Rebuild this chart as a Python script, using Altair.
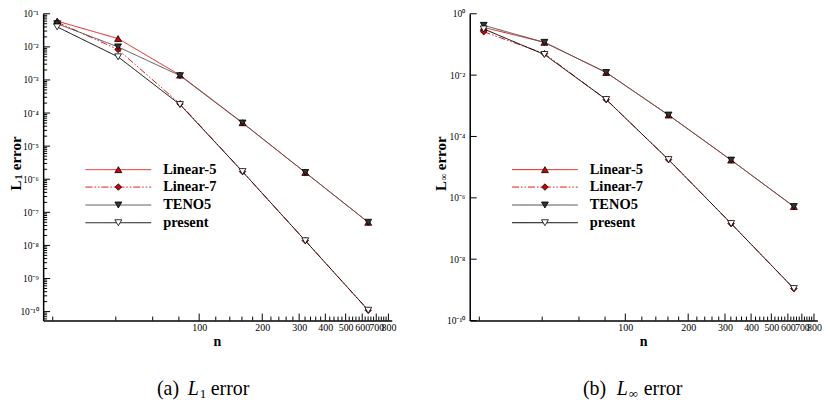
import altair as alt
import pandas as pd

# ---------------- data ----------------
n_vals = [21, 41, 81, 161, 321, 641]
methods = ["Linear-5", "Linear-7", "TENO5", "present"]

l1_linear5 = [6.0e-2, 1.78e-2, 1.4e-3, 5.1e-5, 1.6e-6, 5.0e-8]
l1_linear7 = [5.6e-2, 8.3e-3, 1.9e-4, 1.7e-6, 1.4e-8, 1.1e-10]
l1_teno5 = [5.0e-2, 1.0e-2, 1.35e-3, 5.0e-5, 1.6e-6, 5.0e-8]
l1_present = [4.0e-2, 5.0e-3, 1.8e-4, 1.7e-6, 1.38e-8, 1.1e-10]

linf_linear5 = [0.36, 0.117, 1.22e-2, 5.0e-4, 1.7e-5, 5.2e-7]
linf_linear7 = [0.26, 0.05, 1.6e-3, 1.76e-5, 1.45e-7, 1.1e-9]
linf_teno5 = [0.42, 0.117, 1.22e-2, 5.0e-4, 1.7e-5, 5.2e-7]
linf_present = [0.32, 0.047, 1.6e-3, 1.76e-5, 1.45e-7, 1.1e-9]

x_ticks = [100, 200, 300, 400, 500, 600, 700, 800]
x_minor = [20, 40, 60, 80] + [h + 20 * k for h in range(100, 800, 100) for k in range(1, 5)]

l1_y_ticks = [1e-1, 1e-2, 1e-3, 1e-4, 1e-5, 1e-6, 1e-7, 1e-8, 1e-9, 1e-10]
l1_y_labels = ["10⁻¹", "10⁻²", "10⁻³", "10⁻⁴", "10⁻⁵", "10⁻⁶", "10⁻⁷", "10⁻⁸", "10⁻⁹", "10⁻¹⁰"]
linf_y_ticks = [1.0, 1e-2, 1e-4, 1e-6, 1e-8, 1e-10]
linf_y_labels = ["10⁰", "10⁻²", "10⁻⁴", "10⁻⁶", "10⁻⁸", "10⁻¹⁰"]

FONT = "Liberation Serif, Times New Roman, Times, serif"
W_L, W_R, H = 350, 349, 308
X_DOMAIN = [18, 830]

STY = {
    "Linear-5": dict(color="#e41a1c", dash=[1, 0], shape="triangle-up", fill="#d40000", size=48),
    "Linear-7": dict(color="#e41a1c", dash=[7, 2, 1.5, 2, 1.5, 2], shape="diamond", fill="#d40000", size=42),
    "TENO5": dict(color="#505050", dash=[1, 0], shape="triangle-down", fill="#333333", size=48),
    "present": dict(color="#000000", dash=[1, 0], shape="triangle-down", fill="#ffffff", size=48),
}

one = pd.DataFrame({"d": [0]})


def panel(series, ydomain, y_ticks, y_labels, y_minor, W, title_parts, caption_parts, title_x):
    xs = alt.Scale(type="log", domain=X_DOMAIN, nice=False)
    ys = alt.Scale(type="log", domain=ydomain, nice=False)
    xaxis = alt.Axis(values=x_ticks, format="d", labelFont=FONT, labelFontSize=10,
                     ticks=False, tickSize=0, domainColor="black", domainWidth=1.5,
                     grid=False, title=None, labelOverlap=False, labelFlush=False,
                     labelBound=False, labelPadding=2, labelColor="black")
    arr = "[" + ",".join("'%s'" % s for s in y_labels) + "]"
    vals = "[" + ",".join(repr(v) for v in y_ticks) + "]"
    yaxis = alt.Axis(values=y_ticks, labelExpr=arr + "[indexof(" + vals + ", datum.value)]",
                     labelFont=FONT, labelFontSize=9.5, ticks=False, tickSize=0,
                     domainColor="black", domainWidth=1.5, grid=False, title=None,
                     labelOverlap=False, labelFlush=False, labelBound=False,
                     labelPadding=5, labelColor="black")
    X = lambda: alt.X("n:Q", scale=xs, axis=xaxis)
    Y = lambda: alt.Y("err:Q", scale=ys, axis=yaxis)

    layers = []
    # inward ticks
    layers.append(alt.Chart(pd.DataFrame({"n": x_ticks})).mark_rule(color="black", strokeWidth=1)
                  .encode(x=X(), y=alt.value(H), y2=alt.value(H - 7)))
    layers.append(alt.Chart(pd.DataFrame({"n": x_minor})).mark_rule(color="black", strokeWidth=1)
                  .encode(x=X(), y=alt.value(H), y2=alt.value(H - 4)))
    layers.append(alt.Chart(pd.DataFrame({"err": y_ticks})).mark_rule(color="black", strokeWidth=1)
                  .encode(y=Y(), x=alt.value(0), x2=alt.value(7)))
    if y_minor:
        layers.append(alt.Chart(pd.DataFrame({"err": y_minor})).mark_rule(color="black", strokeWidth=1)
                      .encode(y=Y(), x=alt.value(0), x2=alt.value(4)))

    # lines
    for m in methods:
        df = pd.DataFrame({"n": n_vals, "err": series[m]})
        s = STY[m]
        layers.append(alt.Chart(df).mark_line(color=s["color"], strokeWidth=1, strokeDash=s["dash"])
                      .encode(x=X(), y=Y()))
    # markers
    for m in methods:
        df = pd.DataFrame({"n": n_vals, "err": series[m]})
        s = STY[m]
        layers.append(alt.Chart(df).mark_point(shape=s["shape"], filled=True, fill=s["fill"],
                                               stroke="black", strokeWidth=0.8, size=s["size"], opacity=1)
                      .encode(x=X(), y=Y()))

    # legend
    rows = [156.5, 174.0, 192.0, 209.8]
    for m, ry in zip(methods, rows):
        s = STY[m]
        layers.append(alt.Chart(one).mark_rule(color=s["color"], strokeWidth=1, strokeDash=s["dash"])
                      .encode(x=alt.value(42.5), x2=alt.value(108.5), y=alt.value(ry)))
        layers.append(alt.Chart(one).mark_point(shape=s["shape"], filled=True, fill=s["fill"],
                                                stroke="black", strokeWidth=0.8, size=s["size"], opacity=1)
                      .encode(x=alt.value(75.5), y=alt.value(ry)))
        layers.append(alt.Chart(one).mark_text(text=m, align="left", baseline="middle", font=FONT,
                                               fontSize=14.5, fontWeight="bold", color="black")
                      .encode(x=alt.value(120.5), y=alt.value(ry)))

    # y-axis title (rotated pieces)
    for txt, dx, yy, fs in title_parts:
        layers.append(alt.Chart(one).mark_text(text=txt, angle=270, align="left", baseline="middle",
                                               font=FONT, fontSize=fs, fontWeight="bold", color="black")
                      .encode(x=alt.value(title_x + dx), y=alt.value(yy)))
    # x-axis title
    layers.append(alt.Chart(one).mark_text(text="n", align="center", baseline="middle", font=FONT,
                                           fontSize=14, fontWeight="bold", color="black")
                  .encode(x=alt.value(W / 2), y=alt.value(330)))
    # caption
    for txt, xx, dy, fs, style in caption_parts:
        layers.append(alt.Chart(one).mark_text(text=txt, align="left", baseline="bottom", font=FONT,
                                               fontSize=fs, fontStyle=style, color="black")
                      .encode(x=alt.value(xx), y=alt.value(387 + dy)))

    return alt.layer(*layers).properties(width=W, height=H)


left = panel(
    {"Linear-5": l1_linear5, "Linear-7": l1_linear7, "TENO5": l1_teno5, "present": l1_present},
    [5.37e-11, 0.1], l1_y_ticks, l1_y_labels,
    [k * 10.0 ** d for d in range(-11, -1) for k in range(2, 10) if 5.37e-11 <= k * 10.0 ** d <= 0.1],
    W_L,
    [("L", 0, 177.5, 15), ("1", 3.5, 166.5, 10), ("error", 0, 157, 15)],
    [("(a)", 114.3, 0, 20, "normal"), ("L", 145.3, 0, 20, "italic"), ("1", 157.3, 2, 13, "normal"),
     ("error", 168.3, 0, 20, "normal")],
    -27.7,
)

right = panel(
    {"Linear-5": linf_linear5, "Linear-7": linf_linear7, "TENO5": linf_teno5, "present": linf_present},
    [1e-10, 1.0], linf_y_ticks, linf_y_labels, [],
    W_R,
    [("L", 0, 178, 15), ("∞", 3.5, 167.5, 10), ("error", 0, 157, 15)],
    [("(b)", 113.7, 0, 20, "normal"), ("L", 147.7, 0, 20, "italic"), ("∞", 159.7, 2, 13, "normal"),
     ("error", 174.7, 0, 20, "normal")],
    -29.3,
)

chart = (
    alt.hconcat(left, right, spacing=78.3, bounds="flush")
    .properties(padding={"left": 0.3, "top": 0, "right": 0, "bottom": 0})
    .configure_view(stroke=None)
)

chart.save("out.html", embed_options={"renderer": "svg", "actions": False})
